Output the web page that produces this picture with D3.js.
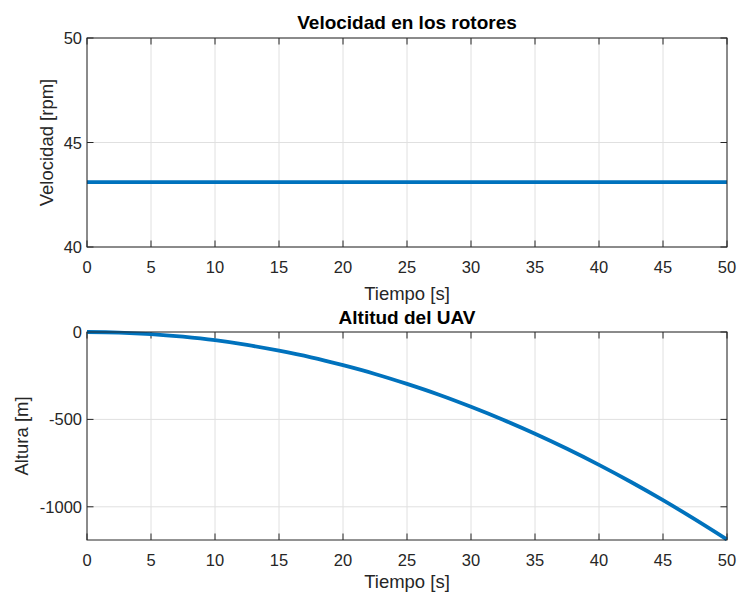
<!DOCTYPE html>
<html>
<head>
<meta charset="utf-8">
<script src="https://cdn.jsdelivr.net/npm/d3@7"></script>
<style>
  body { margin: 0; background: #fff; }
  text { font-family: "Liberation Sans", Arial, Helvetica, sans-serif; fill: #262626; }
</style>
</head>
<body>
<div id="chart"></div>
<script>
// data
const tiempo = [0, 2.5, 5, 7.5, 10, 12.5, 15, 17.5, 20, 22.5, 25, 27.5, 30, 32.5, 35, 37.5, 40, 42.5, 45, 47.5, 50];
const velocidad = [43.1, 43.1, 43.1, 43.1, 43.1, 43.1, 43.1, 43.1, 43.1, 43.1, 43.1, 43.1, 43.1, 43.1, 43.1, 43.1, 43.1, 43.1, 43.1, 43.1, 43.1];
const altura = [0, -3, -12, -27, -47, -74, -107, -145, -190, -240, -297, -359, -428, -502, -582, -668, -760, -858, -962, -1072, -1187];
const xTicks = [0, 5, 10, 15, 20, 25, 30, 35, 40, 45, 50];
const velTicks = [40, 45, 50];
const altTicks = [-1000, -500, 0];

const width = 737, height = 594;
const svg = d3.select("#chart")
    .append("svg")
    .attr("width", width)
    .attr("height", height)
;

const left = 87, right = 727;

const panels = [
    {
        top: 38, bottom: 247, yDomain: [40, 50], yTicks: velTicks, values: velocidad,
        title: "Velocidad en los rotores", yLabel: "Velocidad [rpm]", yLabelX: 47,
        titleY: 29, tickY: 273, xLabelY: 300
    },
    {
        top: 332, bottom: 540, yDomain: [-1190, 0], yTicks: altTicks, values: altura,
        title: "Altitud del UAV", yLabel: "Altura [m]", yLabelX: 22,
        titleY: 324, tickY: 566, xLabelY: 588
    }
];

panels.forEach(p => {
    const x = d3.scaleLinear().domain([0, 50]).range([left, right]);
    const y = d3.scaleLinear().domain(p.yDomain).range([p.bottom, p.top]);
    const g = svg.append("g");

    // grid
    g.append("g")
        .selectAll("line")
        .data(xTicks)
        .join("line")
        .attr("x1", d => x(d)).attr("x2", d => x(d))
        .attr("y1", p.top).attr("y2", p.bottom)
        .style("stroke", "#e0e0e0").style("stroke-width", 1)
    ;
    g.append("g")
        .selectAll("line")
        .data(p.yTicks)
        .join("line")
        .attr("x1", left).attr("x2", right)
        .attr("y1", d => y(d)).attr("y2", d => y(d))
        .style("stroke", "#e0e0e0").style("stroke-width", 1)
    ;

    // inner ticks on all four sides
    const tl = 6.5;
    const ticks = g.append("g").style("stroke", "#262626").style("stroke-width", 1);
    xTicks.forEach(t => {
        ticks.append("line").attr("x1", x(t)).attr("x2", x(t)).attr("y1", p.bottom).attr("y2", p.bottom - tl);
        ticks.append("line").attr("x1", x(t)).attr("x2", x(t)).attr("y1", p.top).attr("y2", p.top + tl);
    });
    p.yTicks.forEach(t => {
        ticks.append("line").attr("x1", left).attr("x2", left + tl).attr("y1", y(t)).attr("y2", y(t));
        ticks.append("line").attr("x1", right).attr("x2", right - tl).attr("y1", y(t)).attr("y2", y(t));
    });

    // data line
    const line = d3.line()
        .x((d, i) => x(tiempo[i]))
        .y(d => y(d))
        .curve(d3.curveMonotoneX)
    ;
    g.append("path")
        .datum(p.values)
        .attr("d", line)
        .style("fill", "none")
        .style("stroke", "#0072BD")
        .style("stroke-width", 3.8)
    ;

    // box
    g.append("rect")
        .attr("x", left).attr("y", p.top)
        .attr("width", right - left).attr("height", p.bottom - p.top)
        .style("fill", "none").style("stroke", "#262626").style("stroke-width", 1)
    ;

    // tick labels
    g.append("g")
        .selectAll("text")
        .data(xTicks)
        .join("text")
        .attr("x", d => x(d))
        .attr("y", p.tickY)
        .attr("text-anchor", "middle")
        .style("font-size", "16.5px")
        .text(d => d)
    ;
    g.append("g")
        .selectAll("text")
        .data(p.yTicks)
        .join("text")
        .attr("x", left - 5)
        .attr("y", d => y(d) + 6)
        .attr("text-anchor", "end")
        .style("font-size", "16.5px")
        .text(d => d)
    ;

    // labels
    g.append("text")
        .attr("x", (left + right) / 2)
        .attr("y", p.titleY)
        .attr("text-anchor", "middle")
        .style("font-size", "19px")
        .style("font-weight", "bold")
        .style("fill", "#000")
        .text(p.title)
    ;
    g.append("text")
        .attr("x", (left + right) / 2)
        .attr("y", p.xLabelY)
        .attr("text-anchor", "middle")
        .style("font-size", "18.5px")
        .text("Tiempo [s]")
    ;
    g.append("text")
        .attr("transform", "translate(" + p.yLabelX + "," + (p.top + p.bottom) / 2 + ") rotate(-90)")
        .attr("text-anchor", "middle")
        .attr("dy", "0.35em")
        .style("font-size", "18.5px")
        .text(p.yLabel)
    ;
});
</script>
</body>
</html>
